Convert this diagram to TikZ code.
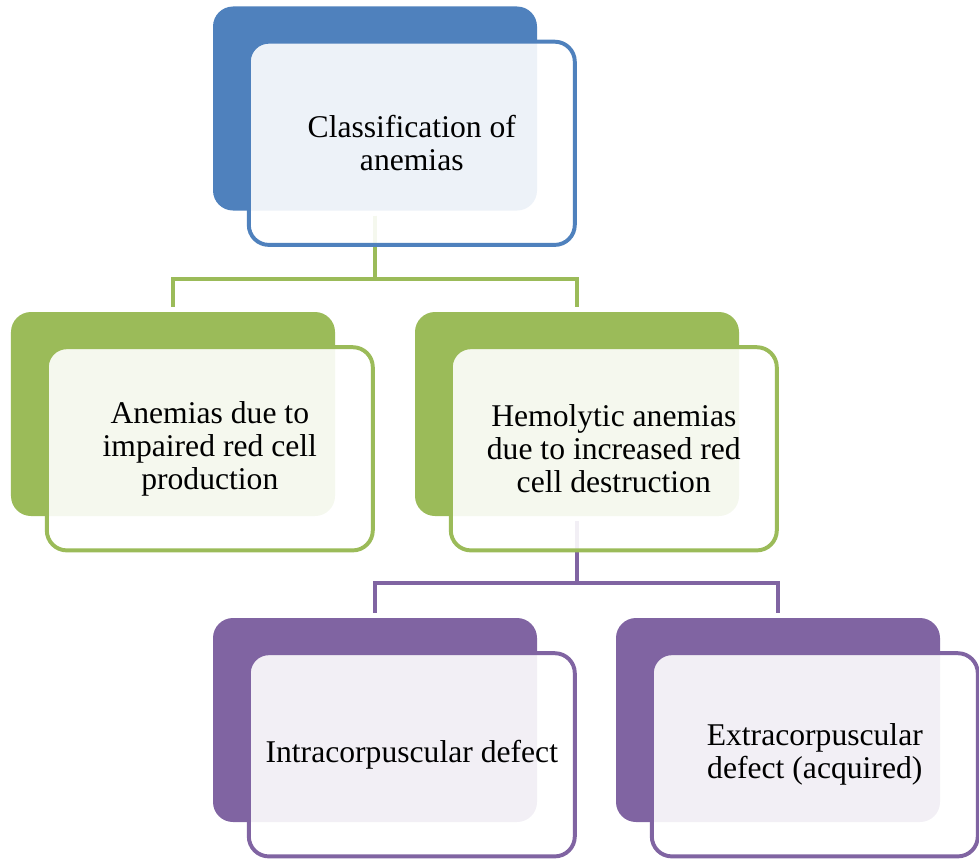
\documentclass[tikz,border=0pt]{standalone}
\usepackage{fontspec}
\setmainfont{Liberation Serif}
\definecolor{blueacc}{HTML}{4F81BD}
\definecolor{greenacc}{HTML}{9BBB59}
\definecolor{purpleacc}{HTML}{8064A2}
\begin{document}
\begin{tikzpicture}[every node/.append style={align=center},backbox/.style={rectangle, rounded corners=0.5cm, minimum width=8.1cm, minimum height=5.1cm, inner sep=0pt, fill=#1},frontbox/.style={rectangle, rounded corners=0.5cm, minimum width=8.15cm, minimum height=5.08cm, inner sep=0pt, draw=#1, line width=2.8pt, fill=white, fill opacity=0.9, text opacity=1, xshift=0.92cm, yshift=-0.87cm, font=\fontsize{22.5}{23.5}\selectfont},link/.style={line width=2.8pt, draw=#1, shorten <=0.12cm, shorten >=0.12cm},]
    \useasboundingbox (0,0) rectangle (24.475,-21.475);
    \node [backbox=blueacc] (clsback) at (9.375,-2.7125) {};
    \node [backbox=greenacc] (prodback) at (4.325,-10.35) {};
    \node [backbox=greenacc] (hemoback) at (14.425,-10.35) {};
    \node [backbox=purpleacc] (intraback) at (9.375,-18) {};
    \node [backbox=purpleacc] (extraback) at (19.45,-18) {};
    \draw[link=greenacc] (clsback.south) -- ++(0,-1.7) -| (prodback.north);
    \draw[link=greenacc] (clsback.south) -- ++(0,-1.7) -| (hemoback.north);
    \draw[link=purpleacc] (hemoback.south) -- ++(0,-1.675) -| (intraback.north);
    \draw[link=purpleacc] (hemoback.south) -- ++(0,-1.675) -| (extraback.north);
    \node [frontbox=blueacc] (cls) at (clsback) {Classification of\\anemias};
    \node [frontbox=greenacc] (prod) at (prodback) {Anemias due to\\impaired red cell\\production};
    \node [frontbox=greenacc] (hemo) at (hemoback) {Hemolytic anemias\\due to increased red\\cell destruction};
    \node [frontbox=purpleacc] (intra) at (intraback) {Intracorpuscular defect};
    \node [frontbox=purpleacc] (extra) at (extraback) {Extracorpuscular\\defect (acquired)};
\end{tikzpicture}
\end{document}
